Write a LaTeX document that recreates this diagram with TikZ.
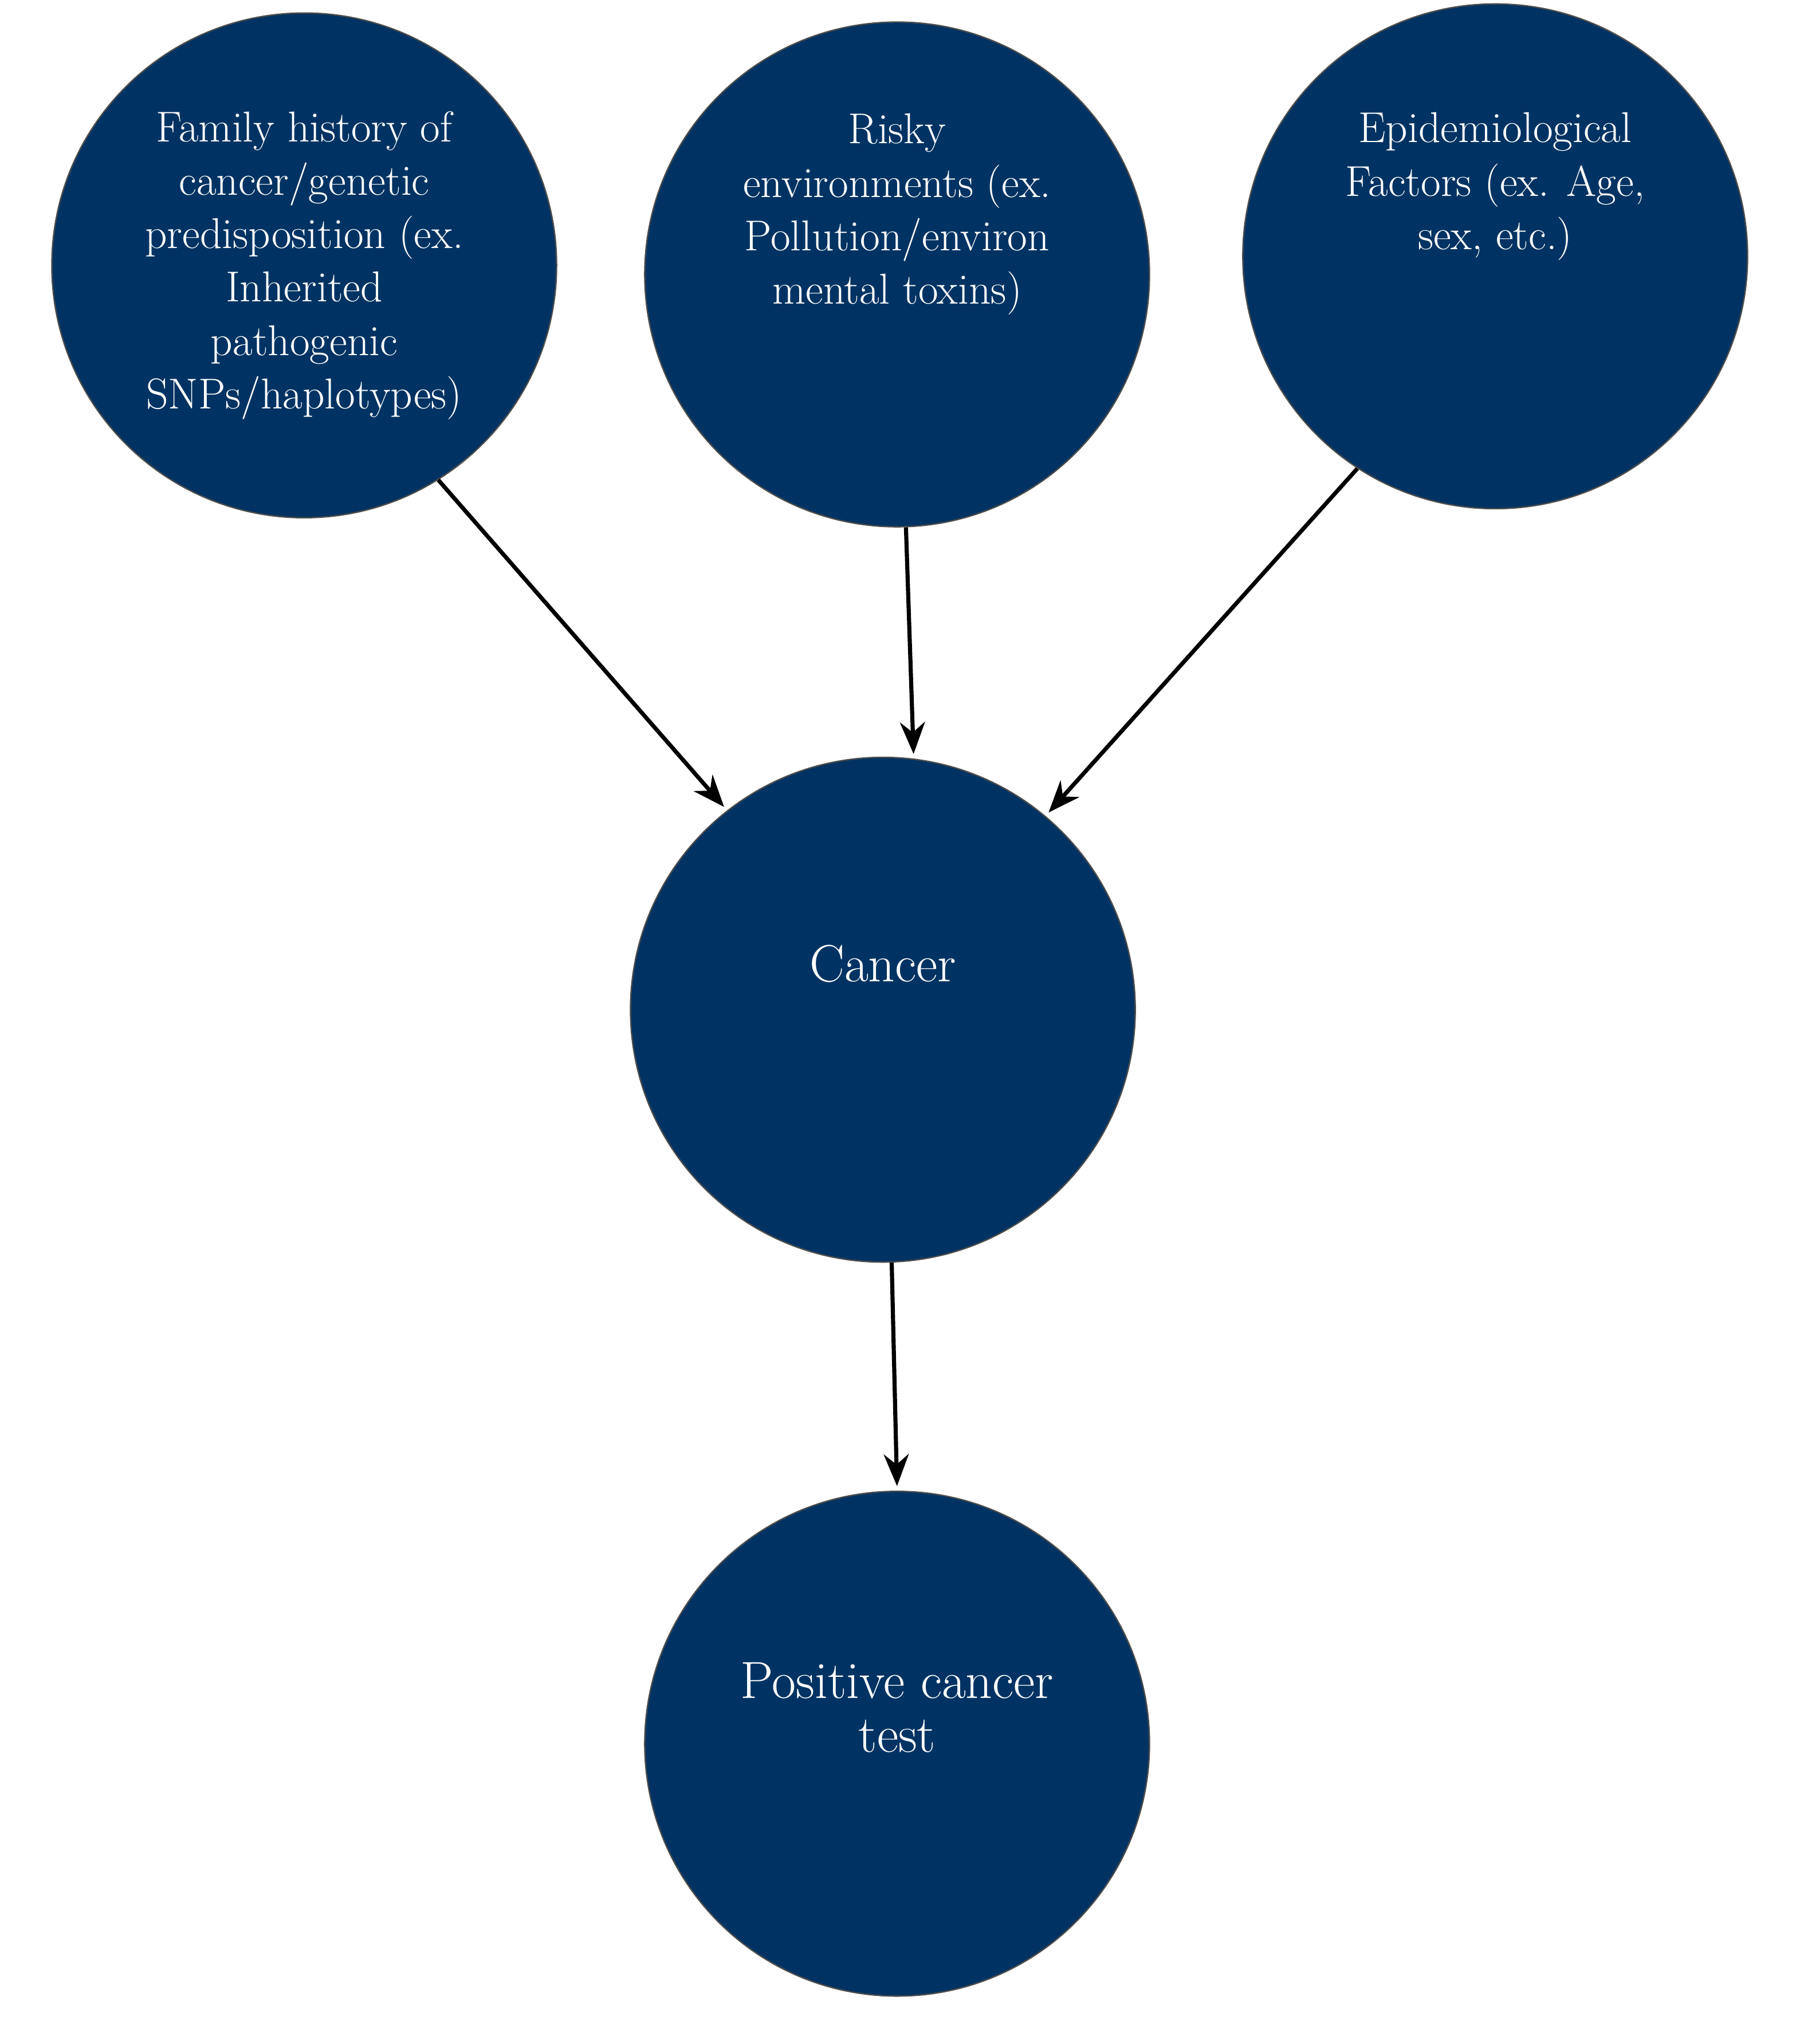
\documentclass[tikz,border=0pt]{standalone}
\usetikzlibrary{arrows.meta}
\begin{document}
\begin{tikzpicture}[x=0.02cm,y=-0.02cm,
  blob/.style={circle,fill=navy,draw=black!70,line width=0.6pt,minimum size=7.8cm,inner sep=0pt,align=center,text=white,font=\fontsize{19}{23.5}\selectfont},
  arr/.style={-{Stealth[length=14pt,width=11pt]},line width=1.8pt,shorten >=2pt}]
\definecolor{navy}{RGB}{0,51,99}
\useasboundingbox (0,0) rectangle (1387,1579);
\node[blob] (fam) at (235,205) {Family history of\\cancer/genetic\\predisposition (ex.\\Inherited\\pathogenic\\SNPs/haplotypes)};
\node[blob] (env) at (693,212) {Risky\\environments (ex.\\Pollution/environ\\mental toxins)\\[1.2cm]};
\node[blob] (epi) at (1155,198) {Epidemiological\\Factors (ex. Age,\\sex, etc.)\\[1.5cm]};
\node[blob] (can) at (682,780) {\fontsize{23}{28}\selectfont Cancer\\[0.6cm]};
\node[blob] (pos) at (693,1347) {\fontsize{23}{28}\selectfont Positive cancer\\\fontsize{23}{28}\selectfont test\\[0.3cm]};
\draw[arr] (fam.302) -- (can.128);
\draw[arr] (env.272) -- (can.83);
\draw[arr] (epi.237) -- (can.50);
\draw[arr] (can.272) -- (pos.90);
\end{tikzpicture}
\end{document}
